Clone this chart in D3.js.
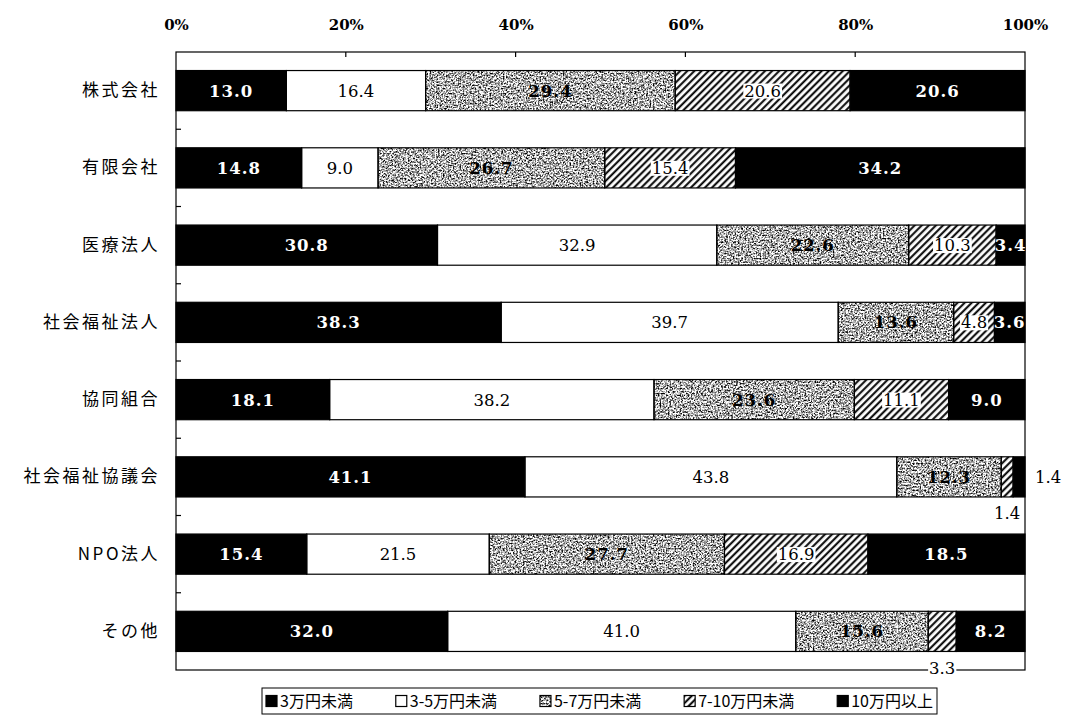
<!DOCTYPE html>
<html>
<head>
<meta charset="utf-8">
<script src="https://cdn.jsdelivr.net/npm/d3@7/dist/d3.min.js"></script>
<style>
  html, body { margin: 0; padding: 0; background: #fff; }
  svg { display: block; }
</style>
</head>
<body>
<svg id="chart" width="1071" height="717"></svg>
<script>
// 法人種別ごとの月額分布（構成比 %）
const categories = ["株式会社", "有限会社", "医療法人", "社会福祉法人", "協同組合", "社会福祉協議会", "NPO法人", "その他"];
const seriesNames = ["3万円未満", "3-5万円未満", "5-7万円未満", "7-10万円未満", "10万円以上"];
const under3 = [13.0, 14.8, 30.8, 38.3, 18.1, 41.1, 15.4, 32.0];
const from3to5 = [16.4, 9.0, 32.9, 39.7, 38.2, 43.8, 21.5, 41.0];
const from5to7 = [29.4, 26.7, 22.6, 13.6, 23.6, 12.3, 27.7, 15.6];
const from7to10 = [20.6, 15.4, 10.3, 4.8, 11.1, 1.4, 16.9, 3.3];
const over10 = [20.6, 34.2, 3.4, 3.6, 9.0, 1.4, 18.5, 8.2];
const tickValues = [0, 20, 40, 60, 80, 100];

// narrow segments whose value label sits outside the bar
const outsideLabels = [
  { category: "社会福祉協議会", series: 3, place: "below" },
  { category: "社会福祉協議会", series: 4, place: "right" },
  { category: "その他", series: 3, place: "frame" }
];

const seriesValues = [under3, from3to5, from5to7, from7to10, over10];

const svg = d3.select("#chart");
const plotLeft = 176, plotRight = 1025, plotTop = 52, plotBottom = 670;

const x = d3.scaleLinear().domain([0, 100]).range([plotLeft, plotRight]);
const y = d3.scaleBand().domain(categories).range([plotTop, plotBottom])
  .paddingInner(0.48).paddingOuter(0.24);

// fills
const defs = svg.append("defs");
const grain = defs.append("filter").attr("id", "grain")
  .attr("x", 0).attr("y", 0).attr("width", 1).attr("height", 1)
  .attr("color-interpolation-filters", "sRGB");
grain.append("feTurbulence").attr("type", "fractalNoise")
  .attr("baseFrequency", 0.6).attr("numOctaves", 3).attr("seed", 11).attr("result", "noise");
grain.append("feColorMatrix").attr("in", "noise").attr("type", "matrix")
  .attr("values", "2.6 0 0 0 -0.62  2.6 0 0 0 -0.62  2.6 0 0 0 -0.62  0 0 0 0 1")
  .attr("result", "speck");
grain.append("feComposite").attr("in", "speck").attr("in2", "SourceGraphic").attr("operator", "in");

const hatch = defs.append("pattern").attr("id", "hatch")
  .attr("patternUnits", "userSpaceOnUse").attr("width", 5).attr("height", 5)
  .attr("patternTransform", "rotate(45)");
hatch.append("rect").attr("width", 5).attr("height", 5).attr("fill", "#fff");
hatch.append("line").attr("x1", 1.2).attr("y1", 0).attr("x2", 1.2).attr("y2", 5)
  .attr("stroke", "#000").attr("stroke-width", 2);

const seriesStyle = [
  { fill: "#000", text: "#fff", weight: "bold" },
  { fill: "#fff", text: "#000", weight: "normal" },
  { fill: "#aaa", text: "#000", weight: "bold", grain: true },
  { fill: "url(#hatch)", text: "#000", weight: "normal", boxed: true },
  { fill: "#000", text: "#fff", weight: "bold" }
];

// stacked rows
const rows = categories.map((c, i) => {
  let acc = 0;
  return seriesValues.map((vals, s) => {
    const seg = { category: c, series: s, value: vals[i], x0: acc, x1: acc + vals[i] };
    acc += vals[i];
    return seg;
  });
});
const segments = rows.flat();

// frame
svg.append("rect").attr("x", plotLeft).attr("y", plotTop)
  .attr("width", plotRight - plotLeft).attr("height", plotBottom - plotTop)
  .attr("fill", "none").attr("stroke", "#000").attr("stroke-width", 1.2);

// top axis
const xAxis = d3.axisTop(x).tickValues(tickValues).tickSize(0).tickPadding(0)
  .tickFormat(d => d + "%");
const gx = svg.append("g").attr("transform", `translate(0,${plotTop - 22})`).call(xAxis);
gx.select(".domain").remove();
gx.selectAll("text").attr("font-family", "DejaVu Serif").attr("font-weight", "bold")
  .attr("font-size", 15).attr("fill", "#000");

// inner tick marks at the top edge
svg.append("g").selectAll("line").data(tickValues.slice(1, -1)).join("line")
  .attr("x1", d => x(d)).attr("x2", d => x(d))
  .attr("y1", plotTop).attr("y2", plotTop + 5)
  .attr("stroke", "#000").attr("stroke-width", 1.2);

// category axis
const yAxis = d3.axisLeft(y).tickSize(0).tickPadding(0);
const gy = svg.append("g").attr("transform", `translate(${plotLeft - 16},0)`).call(yAxis);
gy.select(".domain").remove();
gy.selectAll("text").attr("font-family", "Noto Sans CJK JP").attr("font-size", 17)
  .attr("letter-spacing", "2.5px").attr("fill", "#000");

// separator ticks on the left edge between rows
svg.append("g").selectAll("line").data(categories.slice(1)).join("line")
  .attr("x1", plotLeft).attr("x2", plotLeft + 5)
  .attr("y1", d => y(d) - y.step() * y.paddingInner() / 2)
  .attr("y2", d => y(d) - y.step() * y.paddingInner() / 2)
  .attr("stroke", "#000").attr("stroke-width", 1.2);

// bars
const bars = svg.append("g");
bars.selectAll("rect.seg").data(segments).join("rect")
  .attr("class", "seg")
  .attr("x", d => x(d.x0)).attr("y", d => y(d.category))
  .attr("width", d => Math.min(x(d.x1), plotRight) - x(d.x0)).attr("height", y.bandwidth())
  .attr("fill", d => seriesStyle[d.series].fill)
  .attr("filter", d => seriesStyle[d.series].grain ? "url(#grain)" : null);
bars.selectAll("rect.edge").data(segments).join("rect")
  .attr("class", "edge")
  .attr("x", d => x(d.x0)).attr("y", d => y(d.category))
  .attr("width", d => Math.min(x(d.x1), plotRight) - x(d.x0)).attr("height", y.bandwidth())
  .attr("fill", "none").attr("stroke", "#000").attr("stroke-width", 1.2);

// value labels
const findOutside = d => outsideLabels.find(o => o.category === d.category && o.series === d.series);
const labels = svg.append("g");
segments.forEach(d => {
  const st = seriesStyle[d.series];
  const o = findOutside(d);
  const cx = (x(d.x0) + Math.min(x(d.x1), plotRight)) / 2;
  const cy = y(d.category) + y.bandwidth() / 2;
  const txt = d.value.toFixed(1);
  let tx = cx, ty = cy, fill = st.text, weight = st.weight, anchor = "middle", box = st.boxed;
  if (o) {
    fill = "#000"; weight = "normal"; box = false;
    if (o.place === "right") { tx = plotRight + 10; anchor = "start"; }
    else if (o.place === "below") { ty = y(d.category) + y.bandwidth() + 16; }
    else if (o.place === "frame") { ty = plotBottom - 2; box = true; }
  }
  const g = labels.append("g");
  const t = g.append("text")
    .attr("x", tx).attr("y", ty).attr("dy", "0.36em")
    .attr("text-anchor", anchor)
    .attr("font-family", "DejaVu Serif").attr("font-size", 16.5)
    .attr("font-weight", weight)
    .attr("letter-spacing", weight === "bold" ? "1px" : "0px")
    .attr("fill", fill)
    .text(txt);
  if (box) {
    const bb = t.node().getBBox();
    g.insert("rect", "text")
      .attr("x", bb.x - 1).attr("y", bb.y + 2)
      .attr("width", bb.width + 2).attr("height", bb.height - 4)
      .attr("fill", "#fff");
  }
});

// legend
const legend = svg.append("g");
const lgLeft = 262, lgRight = 937, lgTop = 688, lgH = 26;
legend.append("rect").attr("x", lgLeft).attr("y", lgTop)
  .attr("width", lgRight - lgLeft).attr("height", lgH)
  .attr("fill", "#fff").attr("stroke", "#000").attr("stroke-width", 1);
const sym = 11, symGap = 3;
const items = legend.selectAll("g.item").data(seriesNames).join("g").attr("class", "item");
items.append("text")
  .attr("font-family", "Noto Sans CJK JP").attr("font-size", 16)
  .attr("fill", "#000").attr("dy", "0.35em")
  .text(d => d);
const widths = [];
items.select("text").each(function () { widths.push(this.getComputedTextLength()); });
const used = d3.sum(widths) + seriesNames.length * (sym + symGap);
const gap = (lgRight - lgLeft - 8 - used) / (seriesNames.length - 1);
let cursor = lgLeft + 4;
items.each(function (d, i) {
  const g = d3.select(this);
  const cy = lgTop + lgH / 2;
  const sx = cursor;
  const style = seriesStyle[i];
  g.insert("rect", "text").attr("x", sx).attr("y", cy - sym / 2)
    .attr("width", sym).attr("height", sym)
    .attr("fill", style.grain ? "#aaa" : style.fill)
    .attr("filter", style.grain ? "url(#grain)" : null);
  g.insert("rect", "text").attr("x", sx).attr("y", cy - sym / 2)
    .attr("width", sym).attr("height", sym)
    .attr("fill", "none").attr("stroke", "#000").attr("stroke-width", 1.2);
  g.select("text").attr("x", sx + sym + symGap).attr("y", cy);
  cursor = sx + sym + symGap + widths[i] + gap;
});
</script>
</body>
</html>
